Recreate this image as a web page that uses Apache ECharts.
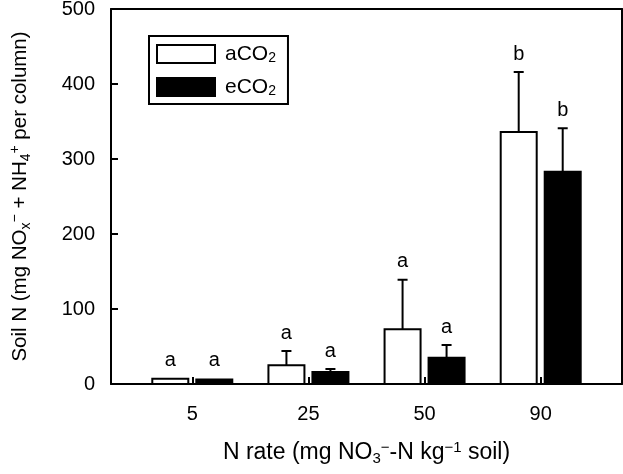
<!DOCTYPE html>
<html>
<head>
<meta charset="utf-8">
<script src="https://cdn.jsdelivr.net/npm/echarts@6/dist/echarts.min.js"></script>
<style>html,body{margin:0;padding:0;background:#fff}#c{width:623px;height:474px}</style>
</head>
<body>
<div id="c"></div>
<script>
// Data
var categories = ['5', '25', '50', '90'];
var aCO2 = [7, 25, 73, 336];
var aCO2Err = [8, 44, 139, 416];
var aCO2Letters = ['a', 'a', 'a', 'b'];
var eCO2 = [6, 16, 35, 283];
var eCO2Err = [7, 20, 52, 341];
var eCO2Letters = ['a', 'a', 'a', 'b'];
var yTicks = [0, 100, 200, 300, 400, 500];

var FONT = 'Liberation Sans, Arial, Helvetica, sans-serif';
var chart = echarts.init(document.getElementById('c'), null, {renderer: 'canvas'});

function makeData(vals, errs, letters) {
  return vals.map(function (v, i) { return [i + 1, v, errs[i], letters[i]]; });
}

function renderer(offset, fill) {
  return function (params, api) {
    var x = api.value(0), v = api.value(1), e = api.value(2), letter = api.value(3);
    var base = api.coord([x, 0]);
    var top = api.coord([x, v]);
    var et = api.coord([x, e]);
    var cx = base[0] + offset;
    var bw = 36;
    var children = [];
    if (et[1] < top[1] - 1) {
      children.push({type: 'line', shape: {x1: cx, y1: top[1], x2: cx, y2: et[1]}, style: {stroke: '#000', lineWidth: 2}});
      children.push({type: 'line', shape: {x1: cx - 5, y1: et[1], x2: cx + 5, y2: et[1]}, style: {stroke: '#000', lineWidth: 2}});
    }
    children.push({type: 'rect', shape: {x: cx - bw / 2, y: top[1], width: bw, height: base[1] - top[1]},
      style: {fill: fill, stroke: '#000', lineWidth: 2}});
    children.push({type: 'text', style: {text: letter, x: cx, y: Math.min(et[1], top[1]) - 18,
      align: 'center', verticalAlign: 'middle', font: '20px ' + FONT, fill: '#000'}});
    return {type: 'group', children: children};
  };
}

function richStyles(size) {
  return {
    sub: {fontSize: size, fontFamily: FONT, color: '#000', lineHeight: size, verticalAlign: 'bottom'},
    sup: {fontSize: size, fontFamily: FONT, color: '#000', lineHeight: size, verticalAlign: 'top'}
  };
}

var option = {
  animation: false,
  backgroundColor: '#fff',
  grid: {left: 111, top: 9, right: 1, bottom: 90, containLabel: false, outerBoundsMode: 'none'},
  xAxis: [{
    type: 'value', min: 0.3, max: 4.7, position: 'bottom',
    axisLine: {show: true, onZero: false, lineStyle: {color: '#000', width: 2}},
    axisTick: {show: true, inside: true, length: 7, customValues: [1, 2, 3, 4], lineStyle: {color: '#000', width: 2}},
    axisLabel: {show: true, customValues: [1, 2, 3, 4], margin: 20, color: '#000', fontSize: 20, fontFamily: FONT,
      formatter: function (v) { return categories[Math.round(v) - 1] || ''; }},
    splitLine: {show: false},
    name: 'N rate (mg NO{sub|3}{sup|\u2212}-N kg{sup|\u22121} soil)',
    nameLocation: 'middle', nameGap: 56,
    nameTextStyle: {color: '#000', fontSize: 23, lineHeight: 26, fontFamily: FONT, rich: richStyles(15)}
  }, {
    type: 'value', min: 0.3, max: 4.7, position: 'top',
    axisLine: {show: true, onZero: false, lineStyle: {color: '#000', width: 2}},
    axisTick: {show: false}, axisLabel: {show: false}, splitLine: {show: false}
  }],
  yAxis: [{
    type: 'value', min: 0, max: 500, interval: 100, position: 'left',
    axisLine: {show: true, lineStyle: {color: '#000', width: 2}},
    axisTick: {show: true, inside: true, length: 7, lineStyle: {color: '#000', width: 2}},
    axisLabel: {color: '#000', fontSize: 20, fontFamily: FONT, margin: 16, padding: [6, 0, 0, 0],
      formatter: function (v) { return yTicks.indexOf(v) >= 0 ? String(v) : ''; }},
    splitLine: {show: false},
    name: 'Soil N (mg NO{sub|x}{sup|\u2212} + NH{sub|4}{sup|+} per column)',
    nameLocation: 'middle', nameGap: 78, nameRotate: 90,
    nameTextStyle: {color: '#000', fontSize: 20.5, lineHeight: 25, fontFamily: FONT, rich: richStyles(14)}
  }, {
    type: 'value', min: 0, max: 500, position: 'right',
    axisLine: {show: true, lineStyle: {color: '#000', width: 2}},
    axisTick: {show: false}, axisLabel: {show: false}, splitLine: {show: false}
  }],
  legend: {
    orient: 'vertical', left: 149, top: 36,
    itemWidth: 58, itemHeight: 18, itemGap: 11,
    padding: [7, 12, 6, 7],
    borderColor: '#000', borderWidth: 2,
    icon: 'rect',
    formatter: function (n) { return n === 'aCO2' ? 'aCO{sub|2}' : 'eCO{sub|2}'; },
    textStyle: {color: '#000', fontSize: 21, lineHeight: 22, fontFamily: FONT, padding: [0, 0, 0, 5],
      rich: {sub: {fontSize: 14, fontFamily: FONT, color: '#000', lineHeight: 14, verticalAlign: 'bottom'}}},
    data: [
      {name: 'aCO2', itemStyle: {color: '#fff', borderColor: '#000', borderWidth: 2}},
      {name: 'eCO2', itemStyle: {color: '#000', borderColor: '#000', borderWidth: 2}}
    ]
  },
  series: [{
    name: 'aCO2', type: 'custom', xAxisIndex: 0, yAxisIndex: 0,
    itemStyle: {color: '#fff', borderColor: '#000'},
    renderItem: renderer(-22, '#fff'),
    data: makeData(aCO2, aCO2Err, aCO2Letters)
  }, {
    name: 'eCO2', type: 'custom', xAxisIndex: 0, yAxisIndex: 0,
    itemStyle: {color: '#000', borderColor: '#000'},
    renderItem: renderer(22, '#000'),
    data: makeData(eCO2, eCO2Err, eCO2Letters)
  }]
};
chart.setOption(option);
</script>
</body>
</html>
